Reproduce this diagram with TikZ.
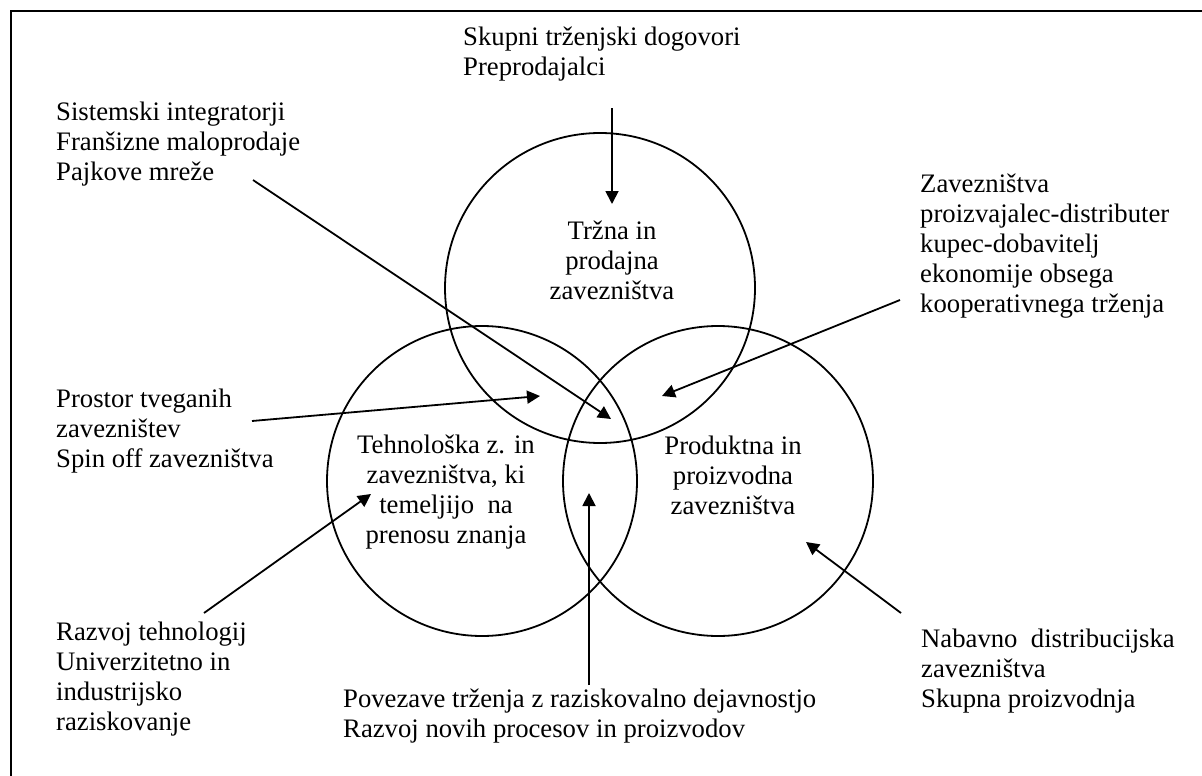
\documentclass[tikz,border=0pt]{standalone}
\usepackage{fontspec}
\setmainfont{Liberation Serif}
\usetikzlibrary{arrows.meta}
\begin{document}
\begin{tikzpicture}[x=1pt,y=-1pt,
  lbl/.style={inner sep=0pt, anchor=base west, align=left, font=\fontsize{26.7}{30}\selectfont},
  clbl/.style={inner sep=0pt, anchor=base, align=center, font=\fontsize{26.7}{30}\selectfont},
  circ/.style={draw, line width=1.8pt, circle, minimum size=310pt, inner sep=0pt},
  arr/.style={line width=1.8pt, -{Triangle[length=13pt,width=13pt]}},
  frame/.style={line width=2pt}]
\useasboundingbox (0,0) rectangle (1202,776);
% frame
\draw[frame] (1202,11) -- (11,11) -- (11,776);
% circles
\node[circ] (ctop) at (600,288) {};
\node[circ] (cleft) at (482,481) {};
\node[circ] (cright) at (718,481) {};
% circle labels (anchor = baseline of last line)
\node[clbl] (ltop) at (612,299) {Tržna in\\prodajna\\zavezništva};
\node[clbl] (lleft) at (446,543) {Tehnološka z. in\\zavezništva, ki\\temeljijo \ na\\prenosu znanja};
\node[clbl] (lright) at (733,514) {Produktna in\\proizvodna\\zavezništva};
% outer labels
\node[lbl] (tskupni) at (463,76) {Skupni trženjski dogovori\\Preprodajalci};
\node[lbl] (tsist) at (56,180) {Sistemski integratorji\\Franšizne maloprodaje\\Pajkove mreže};
\node[lbl] (tzav) at (920,312) {Zavezništva\\proizvajalec-distributer\\kupec-dobavitelj\\ekonomije obsega\\kooperativnega trženja};
\node[lbl] (tprostor) at (56,467) {Prostor tveganih\\zavezništev\\Spin off zavezništva};
\node[lbl] (trazvoj) at (56,730) {Razvoj tehnologij\\Univerzitetno in\\industrijsko\\raziskovanje};
\node[lbl] (tpovez) at (343,737) {Povezave trženja z raziskovalno dejavnostjo\\Razvoj novih procesov in proizvodov};
\node[lbl] (tnabav) at (921,707) {Nabavno \ distribucijska\\zavezništva\\Skupna proizvodnja};
% arrow ends
\coordinate (s1) at (612,108);  \coordinate (e1) at (612,204);
\coordinate (s2) at (253,180);  \coordinate (e2) at (611,419);
\coordinate (s3) at (252,421);  \coordinate (e3) at (540,396);
\coordinate (s4) at (900,300);  \coordinate (e4) at (662,396);
\coordinate (s5) at (204,613);  \coordinate (e5) at (371,494);
\coordinate (s6) at (589,685);  \coordinate (e6) at (589,493);
\coordinate (s7) at (901,613);  \coordinate (e7) at (806,542);
\draw[arr] (s1) -- (e1);
\draw[arr] (s2) -- (e2);
\draw[arr] (s3) -- (e3);
\draw[arr] (s4) -- (e4);
\draw[arr] (s5) -- (e5);
\draw[arr] (s6) -- (e6);
\draw[arr] (s7) -- (e7);
\end{tikzpicture}
\end{document}
